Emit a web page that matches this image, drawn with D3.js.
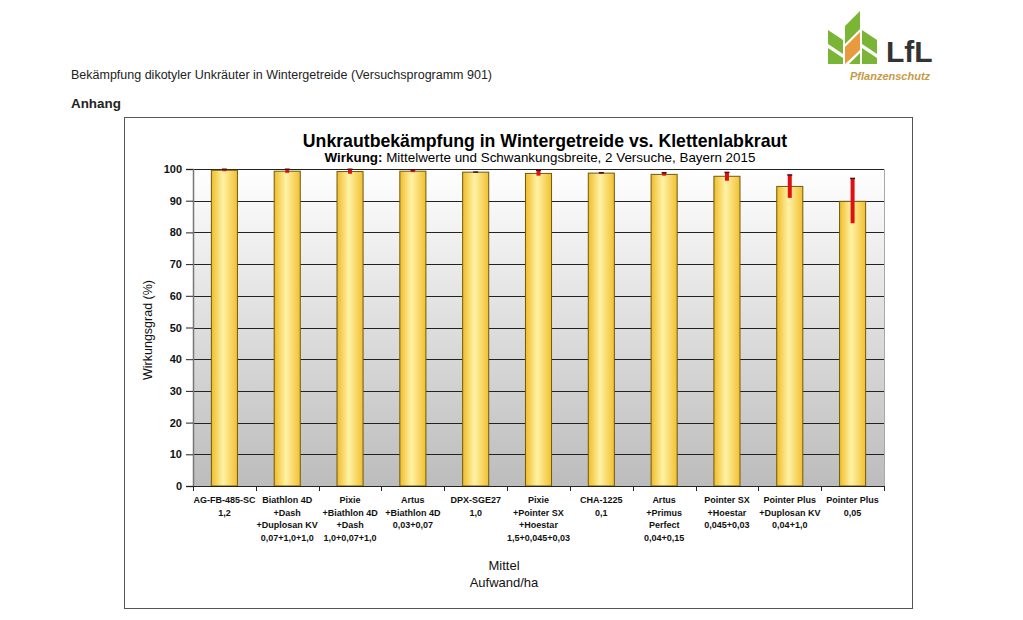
<!DOCTYPE html>
<html><head><meta charset="utf-8">
<script src="https://cdn.jsdelivr.net/npm/d3@7"></script>
<style>body{margin:0;background:#fff}svg{display:block}text{font-family:"Liberation Sans",Arial,sans-serif}</style>
</head><body><svg id="c" width="1023" height="620"></svg>
<script>
// ---- data ----
const categories = [
  ["AG-FB-485-SC","1,2"],
  ["Biathlon 4D","+Dash","+Duplosan KV","0,07+1,0+1,0"],
  ["Pixie","+Biathlon 4D","+Dash","1,0+0,07+1,0"],
  ["Artus","+Biathlon 4D","0,03+0,07"],
  ["DPX-SGE27","1,0"],
  ["Pixie","+Pointer SX","+Hoestar","1,5+0,045+0,03"],
  ["CHA-1225","0,1"],
  ["Artus","+Primus","Perfect","0,04+0,15"],
  ["Pointer SX","+Hoestar","0,045+0,03"],
  ["Pointer Plus","+Duplosan KV","0,04+1,0"],
  ["Pointer Plus","0,05"]
];
const means   = [99.6, 99.3, 99.2, 99.3, 99.0, 98.6, 98.7, 98.3, 97.7, 94.5, 89.8];
const errLow  = [99.3, 98.8, 98.5, 99.0, 98.9, 97.9, 98.5, 97.9, 96.3, 90.9, 82.9];
const errHigh = [100.0, 100.0, 100.0, 99.8, 99.1, 99.7, 98.9, 98.9, 99.0, 98.2, 97.1];
const yTicks  = [0,10,20,30,40,50,60,70,80,90,100];

const svg = d3.select("#c");
const defs = svg.append("defs");
const bg = defs.append("linearGradient").attr("id","bg").attr("x1",0).attr("y1",0).attr("x2",0).attr("y2",1);
bg.append("stop").attr("offset","0%").attr("stop-color","#ffffff");
bg.append("stop").attr("offset","100%").attr("stop-color","#bcbcbc");
const bar = defs.append("linearGradient").attr("id","bar").attr("x1",0).attr("y1",0).attr("x2",1).attr("y2",0);
bar.append("stop").attr("offset","0%").attr("stop-color","#f0bc28");
bar.append("stop").attr("offset","45%").attr("stop-color","#fff2a6");
bar.append("stop").attr("offset","100%").attr("stop-color","#f2c030");

// header
svg.append("text").attr("x",71).attr("y",79).attr("font-size",12.5).attr("fill","#222")
  .text("Bekämpfung dikotyler Unkräuter in Wintergetreide (Versuchsprogramm 901)");
svg.append("text").attr("x",71).attr("y",108).attr("font-size",13.4).attr("font-weight","bold").attr("fill","#222")
  .text("Anhang");

// logo
const logo = svg.append("g");
const green = "#7ab536", orange = "#e89a3c";
[
  [[828,30],[843,40],[843,54],[828,44],green],
  [[828,48],[843,58],[843,64],[828,64],green],
  [[845,26],[860,11],[860,29],[845,44],green],
  [[845,47],[860,32],[860,50],[845,64],orange],
  [[860,53],[860,64],[849,64],green],
  [[862,30],[877,40],[877,54],[862,44],green],
  [[862,48],[877,58],[877,64],[862,64],green]
].forEach(p=>{
  const col=p.pop();
  logo.append("polygon").attr("points",p.map(d=>d.join(",")).join(" ")).attr("fill",col);
});
logo.append("text").attr("x",886).attr("y",62).attr("font-size",30).attr("font-weight","bold").attr("fill","#333").text("LfL");
logo.append("text").attr("x",850).attr("y",80).attr("font-size",11).attr("font-weight","bold").attr("font-style","italic").attr("fill","#c79a45").text("Pflanzenschutz");

// chart frame
svg.append("rect").attr("x",124.5).attr("y",117.5).attr("width",788).attr("height",491)
  .attr("fill","#fff").attr("stroke","#555");

svg.append("text").attr("x",545).attr("y",147).attr("text-anchor","middle").attr("font-size",17.7)
  .attr("font-weight","bold").attr("fill","#000").text("Unkrautbekämpfung in Wintergetreide vs. Klettenlabkraut");
const st = svg.append("text").attr("x",540).attr("y",162).attr("text-anchor","middle").attr("font-size",13.4).attr("fill","#000");
st.append("tspan").attr("font-weight","bold").text("Wirkung:");
st.append("tspan").text(" Mittelwerte und Schwankungsbreite, 2 Versuche, Bayern 2015");

// scales
const x = d3.scaleBand().domain(d3.range(categories.length)).range([193,884]).padding(0);
const y = d3.scaleLinear().domain([0,100]).range([486,169]);
const bw = x.bandwidth()*0.415;

// plot area
svg.append("rect").attr("x",193).attr("y",169).attr("width",884-193).attr("height",486-169).attr("fill","url(#bg)");
svg.append("path").attr("d","M193,169.5H884.5V486").attr("fill","none").attr("stroke","#a8a8a8");

// gridlines
svg.append("g").selectAll("line").data(yTicks.filter(t=>t>0)).join("line")
  .attr("x1",193).attr("x2",884).attr("y1",d=>Math.round(y(d))+0.5).attr("y2",d=>Math.round(y(d))+0.5)
  .attr("stroke","#222").attr("stroke-width",1);

// y axis
const ya = svg.append("g").attr("transform","translate(193,0)")
  .call(d3.axisLeft(y).tickValues(yTicks).tickSize(7).tickPadding(4).tickFormat(d3.format("d")));
ya.select(".domain").attr("stroke","#777").attr("stroke-width",1.5);
ya.selectAll(".tick line").attr("stroke","#222");
ya.selectAll("text").attr("font-size",11).attr("font-weight","bold").attr("fill","#111").attr("font-family","Liberation Sans, Arial, sans-serif");

svg.append("text").attr("transform","translate(152,330) rotate(-90)").attr("text-anchor","middle")
  .attr("font-size",12.5).attr("fill","#111").text("Wirkungsgrad (%)");

// bars
svg.append("g").selectAll("rect").data(means).join("rect")
  .attr("x",(d,i)=>x(i)+x.bandwidth()/2-bw/2).attr("width",bw)
  .attr("y",d=>y(d)).attr("height",d=>y(0)-y(d))
  .attr("fill","url(#bar)").attr("stroke","#6e5a10").attr("stroke-width",1);

// error bars
const eb = svg.append("g");
eb.selectAll("line").data(means).join("line")
  .attr("x1",(d,i)=>x(i)+x.bandwidth()/2).attr("x2",(d,i)=>x(i)+x.bandwidth()/2)
  .attr("y1",(d,i)=>y(errHigh[i])).attr("y2",(d,i)=>y(errLow[i]))
  .attr("stroke","#e01010").attr("stroke-width",4);
eb.selectAll("rect").data(means).join("rect")
  .attr("x",(d,i)=>x(i)+x.bandwidth()/2-2.5).attr("width",5)
  .attr("y",(d,i)=>y(errHigh[i])-0.5).attr("height",1.5).attr("fill","#501010");

// x axis
svg.append("line").attr("x1",193).attr("x2",884).attr("y1",486.5).attr("y2",486.5).attr("stroke","#222");
svg.append("g").selectAll("line").data(d3.range(categories.length+1)).join("line")
  .attr("x1",d=>Math.round(193+d*x.bandwidth())+0.5).attr("x2",d=>Math.round(193+d*x.bandwidth())+0.5)
  .attr("y1",486).attr("y2",491).attr("stroke","#222");
const xl = svg.append("g").selectAll("text").data(categories).join("text")
  .attr("text-anchor","middle").attr("font-size",9).attr("font-weight","bold").attr("fill","#111")
  .attr("x",(d,i)=>x(i)+x.bandwidth()/2).attr("y",503);
xl.selectAll("tspan").data(d=>d).join("tspan")
  .attr("x",function(){return this.parentNode.getAttribute("x");})
  .attr("dy",(d,j)=>j===0?0:12.5).text(d=>d);

svg.append("text").attr("x",504).attr("y",570).attr("text-anchor","middle").attr("font-size",13).attr("fill","#111").text("Mittel");
svg.append("text").attr("x",504).attr("y",587).attr("text-anchor","middle").attr("font-size",13).attr("fill","#111").text("Aufwand/ha");
</script></body></html>
